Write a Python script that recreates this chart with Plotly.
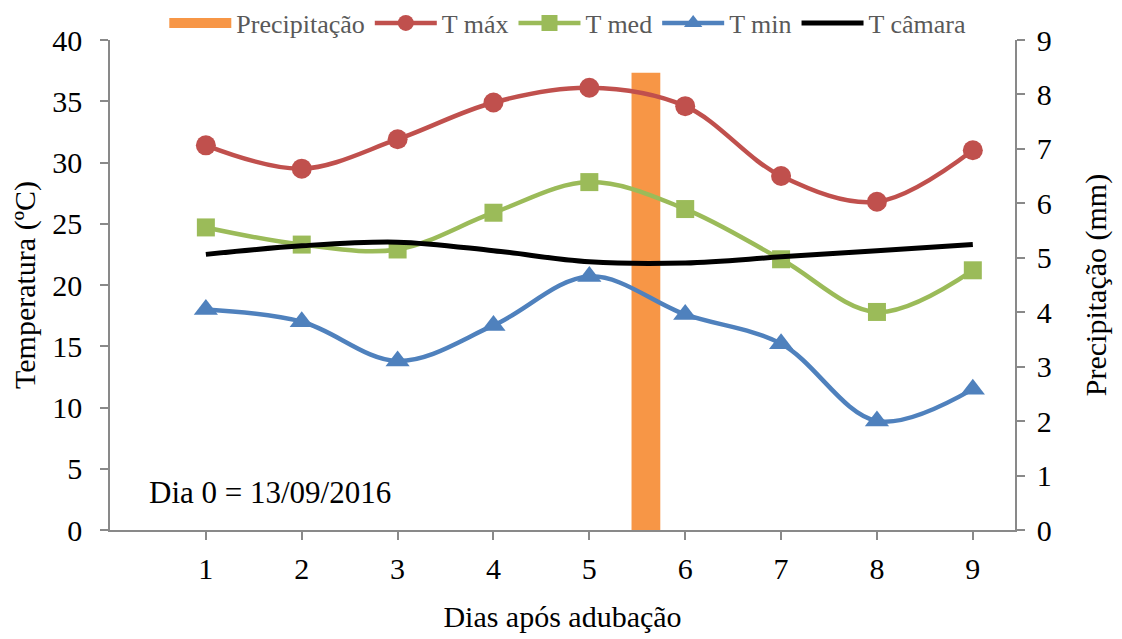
import plotly.graph_objects as go

dias = [1, 2, 3, 4, 5, 6, 7, 8, 9]
t_max = [31.4, 29.5, 31.9, 34.9, 36.1, 34.6, 28.9, 26.8, 31.0]
t_med = [24.7, 23.3, 22.9, 25.9, 28.4, 26.2, 22.1, 17.8, 21.2]
t_min = [18.0, 17.0, 13.8, 16.7, 20.7, 17.6, 15.2, 8.9, 11.5]
t_camara = [22.5, 23.2, 23.5, 22.8, 21.9, 21.8, 22.3, 22.8, 23.3]
precip_x = [5.59]
precip_mm = [8.4]

FONT = "Liberation Serif"
FS = 30

fig = go.Figure()
fig.add_trace(go.Bar(x=precip_x, y=precip_mm, width=0.3, name="Precipitação", showlegend=False,
                     marker=dict(color="#F79646", line=dict(width=0)), yaxis="y"))
# legend entry for the bar, drawn as a wide orange swatch
fig.add_trace(go.Scatter(x=[None], y=[None], name="Precipitação", mode="lines",
                         line=dict(color="#F79646", width=14), yaxis="y"))
fig.add_trace(go.Scatter(x=dias, y=t_max, name="T máx", mode="lines+markers", line_shape="spline",
                         line=dict(color="#C0504D", width=4.5),
                         marker=dict(symbol="circle", size=20, color="#C0504D"), yaxis="y2"))
fig.add_trace(go.Scatter(x=dias, y=t_med, name="T med", mode="lines+markers", line_shape="spline",
                         line=dict(color="#9BBB59", width=4.5),
                         marker=dict(symbol="square", size=18, color="#9BBB59"), yaxis="y2"))
fig.add_trace(go.Scatter(x=dias, y=t_min, name="T min", mode="lines+markers", line_shape="spline",
                         line=dict(color="#4F81BD", width=4.5),
                         marker=dict(symbol="triangle-up", size=21, color="#4F81BD"), yaxis="y2"))
fig.add_trace(go.Scatter(x=dias, y=t_camara, name="T câmara", mode="lines", line_shape="spline",
                         line=dict(color="#000000", width=5), yaxis="y2"))

axis_common = dict(showgrid=False, zeroline=False, showline=True, linecolor="#898989", linewidth=1.5,
                   ticks="outside", tickcolor="#898989", ticklen=8, tickwidth=1.5,
                   tickfont=dict(family=FONT, size=FS, color="black"))

fig.update_layout(
    width=1114, height=631,
    margin=dict(l=102, r=107, t=32, b=109, autoexpand=False),
    paper_bgcolor="white", plot_bgcolor="white",
    font=dict(family=FONT, color="black"),
    showlegend=True,
    legend=dict(orientation="h", x=0.06, xanchor="left",
                yref="container", y=1 - 15 / 631, yanchor="middle",
                font=dict(family=FONT, size=26, color="#595959"), itemwidth=62,
                traceorder="normal", bgcolor="rgba(0,0,0,0)"),
    xaxis=dict(range=[0, 9.44], tickvals=dias, ticklabelstandoff=3, **axis_common),
    yaxis=dict(range=[0, 9], dtick=1, side="right", ticklabelstandoff=6,
               title=dict(text="Precipitação (mm)", font=dict(family=FONT, size=FS), standoff=34),
               **axis_common),
    yaxis2=dict(range=[0, 40], dtick=5, side="left", overlaying="y", ticklabelstandoff=12,
                title=dict(text="Temperatura (ºC)", font=dict(family=FONT, size=FS), standoff=12),
                **axis_common),
    xaxis_title=dict(text="Dias após adubação", font=dict(family=FONT, size=FS), standoff=22),
    annotations=[dict(text="Dia 0 = 13/09/2016", x=0.041, xanchor="left", y=3.1, yanchor="middle",
                      xref="paper", yref="y2", showarrow=False,
                      font=dict(family=FONT, size=31, color="black"))],
)
fig.write_html("out.html")
